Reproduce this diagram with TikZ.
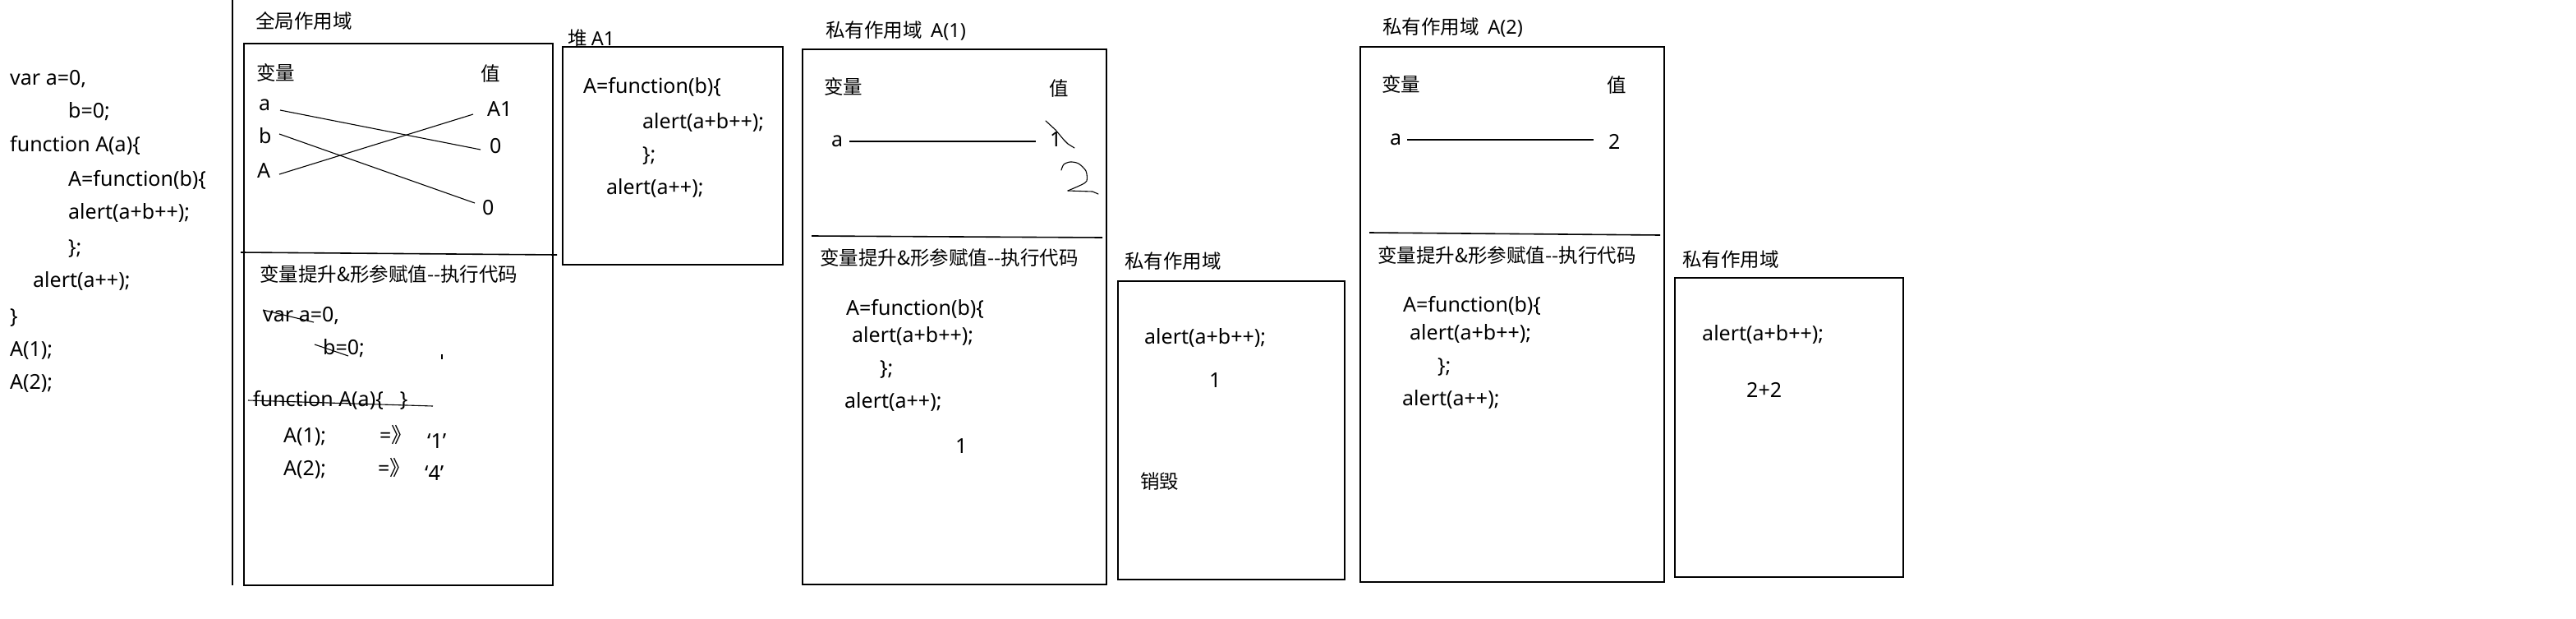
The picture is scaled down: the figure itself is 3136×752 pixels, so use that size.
\documentclass[tikz,border=0pt]{standalone}
\usepackage{fontspec}
\setmainfont{Noto Sans}
\newfontfamily\cjk{Noto Sans CJK SC}
\newcommand\fs{\fontsize{25}{30}\selectfont}
\newcommand\fc{\fontsize{23.5}{28}\selectfont}
\tikzset{
  tx/.style={anchor=west, inner sep=0pt, font=\fs, text height=18pt, text depth=5pt},
  cx/.style={anchor=west, inner sep=0pt, font=\fc\cjk, text height=20pt, text depth=2pt},
  box/.style={draw, line width=1.6pt},
  wire/.style={line width=1.1pt},
  pen/.style={line width=1.1pt, line join=round, line cap=round}
}
\begin{document}
\begin{tikzpicture}[x=1pt,y=-1pt]
\useasboundingbox (0,0) rectangle (3136,752);
\fill[white] (0,0) rectangle (3136,752);

% ---- left source code ----
\node[tx] (c1) at (12,97) {var a=0,};
\node[tx] (c2) at (83,137) {b=0;};
\node[tx] (c3) at (12,178) {function A(a)\{};
\node[tx] (c4) at (83,220) {A=function(b)\{};
\node[tx] (c5) at (83,260) {alert(a+b++);};
\node[tx] (c6) at (83,303) {\};};
\node[tx] (c7) at (40,343) {alert(a++);};
\node[tx] (c8) at (12,387) {\}};
\node[tx] (c9) at (12,427) {A(1);};
\node[tx] (c10) at (12,467) {A(2);};

\coordinate (sepT) at (283,0);
\coordinate (sepB) at (283,712);
\draw[box] (sepT) -- (sepB);

% ---- global scope ----
\node[cx] (gT) at (311,26) {全局作用域};
\draw[box] (297,53) rectangle (673,712);
\coordinate (gd1) at (293,307);
\coordinate (gd2) at (678,310);
\draw[box] (gd1) -- (gd2);
\node[cx] (gVar) at (312,88) {变量};
\node[cx] (gVal) at (585,90) {值};
\node[tx] (ga) at (315,128) {a};
\node[tx] (gb) at (315,168) {b};
\node[tx] (gA) at (313,210) {A};
\node[tx] (gA1) at (593,135) {A1};
\node[tx] (gz1) at (596,180) {0};
\node[tx] (gz2) at (587,255) {0};
\coordinate (la1) at (341,134); \coordinate (la2) at (585,182);
\coordinate (lb1) at (340,163); \coordinate (lb2) at (578,247);
\coordinate (lA1) at (340,212); \coordinate (lA2) at (576,139);
\draw[wire] (la1) -- (la2);
\draw[wire] (lb1) -- (lb2);
\draw[wire] (lA1) -- (lA2);

\node[cx] (gH) at (316,333) {变量提升\&形参赋值--执行代码};
\node[tx] (g1) at (320,385) {var a=0,};
\coordinate (s1a) at (320,377); \coordinate (s1b) at (382,392);
\draw[wire] (s1a) -- (s1b);
\node[tx] (g2) at (393,425) {b=0;};
\coordinate (s2a) at (383,419); \coordinate (s2b) at (424,433);
\draw[wire] (s2a) -- (s2b);
\coordinate (tk1) at (538,431); \coordinate (tk2) at (538,437);
\draw[wire] (tk1) -- (tk2);
\node[tx] (g3) at (308,488) {function A(a)\{\hspace{20pt}\}};
\coordinate (s3a) at (302,487); \coordinate (s3b) at (527,494);
\draw[wire] (s3a) -- (s3b);
\node[tx] (g4) at (345,532) {A(1);};
\node[tx] (g5) at (462,532) {={\cjk 》}};
\node[tx] (g6) at (520,539) {‘1’};
\node[tx] (g7) at (345,572) {A(2);};
\node[tx] (g8) at (460,572) {={\cjk 》}};
\node[tx] (g9) at (517,578) {‘4’};

% ---- heap A1 ----
\draw[box] (685,57) rectangle (953,322);
\node[cx] (hT) at (691,47) {堆\ {\fontspec{Noto Sans}A1}};
\node[tx] (h1) at (710,107) {A=function(b)\{};
\node[tx] (h2) at (782,150) {alert(a+b++);};
\node[tx] (h3) at (782,190) {\};};
\node[tx] (h4) at (738,230) {alert(a++);};

% ---- private scope A(1) ----
\node[cx] (p1T) at (1005,37) {私有作用域\ \ {\fontspec{Noto Sans}A(1)}};
\draw[box] (977,60) rectangle (1347,711);
\coordinate (p1d1) at (988,287); \coordinate (p1d2) at (1342,289);
\draw[box] (p1d1) -- (p1d2);
\node[cx] (p1Var) at (1003,105) {变量};
\node[cx] (p1Val) at (1277,107) {值};
\node[tx] (p1a) at (1012,172) {a};
\node[tx] (p1v) at (1278,172) {1};
\coordinate (p1l1) at (1034,172); \coordinate (p1l2) at (1261,172);
\draw[wire] (p1l1) -- (p1l2);
\draw[pen] (1273,147) -- (1285,158) -- (1295,170) -- (1300,175) -- (1308,180);
\draw[pen] plot[smooth] coordinates {(1292,207) (1295,200) (1303,197) (1313,199) (1322,208) (1323,220) (1316,225) (1300,232)};
\draw[pen] (1300,232) -- (1330,233) -- (1337,236);
\node[cx] (p1H) at (998,313) {变量提升\&形参赋值--执行代码};
\node[tx] (p11) at (1030,377) {A=function(b)\{};
\node[tx] (p12) at (1037,410) {alert(a+b++);};
\node[tx] (p13) at (1071,450) {\};};
\node[tx] (p14) at (1028,490) {alert(a++);};
\node[tx] (p15) at (1163,545) {1};

% ---- private scope (inner, 1) ----
\node[cx] (q1T) at (1369,317) {私有作用域};
\draw[box] (1361,342) rectangle (1637,705);
\node[tx] (q11) at (1393,412) {alert(a+b++);};
\node[tx] (q12) at (1472,465) {1};
\node[cx] (q13) at (1388,585) {销毁};

% ---- private scope A(2) ----
\node[cx] (p2T) at (1683,33) {私有作用域\ \ {\fontspec{Noto Sans}A(2)}};
\draw[box] (1656,57) rectangle (2026,708);
\coordinate (p2d1) at (1667,283); \coordinate (p2d2) at (2021,286);
\draw[box] (p2d1) -- (p2d2);
\node[cx] (p2Var) at (1682,102) {变量};
\node[cx] (p2Val) at (1956,103) {值};
\node[tx] (p2a) at (1692,170) {a};
\node[tx] (p2v) at (1958,175) {2};
\coordinate (p2l1) at (1713,170); \coordinate (p2l2) at (1940,170);
\draw[wire] (p2l1) -- (p2l2);
\node[cx] (p2H) at (1677,310) {变量提升\&形参赋值--执行代码};
\node[tx] (p21) at (1708,373) {A=function(b)\{};
\node[tx] (p22) at (1716,407) {alert(a+b++);};
\node[tx] (p23) at (1750,447) {\};};
\node[tx] (p24) at (1707,487) {alert(a++);};

% ---- private scope (inner, 2) ----
\node[cx] (q2T) at (2048,315) {私有作用域};
\draw[box] (2039,338) rectangle (2317,702);
\node[tx] (q21) at (2072,408) {alert(a+b++);};
\node[tx] (q22) at (2126,477) {2+2};
\end{tikzpicture}
\end{document}
